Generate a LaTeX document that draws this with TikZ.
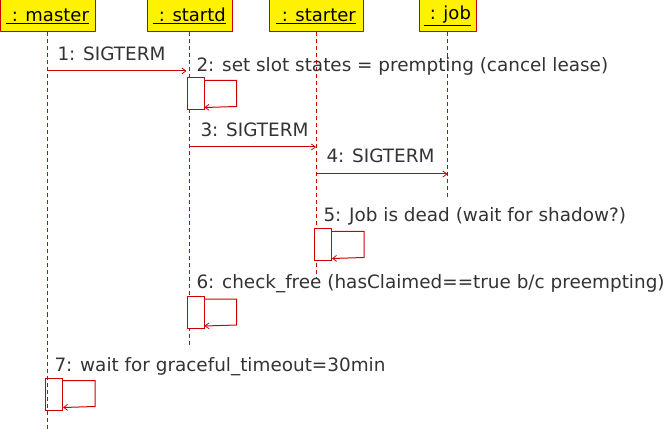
\documentclass[tikz,border=0pt]{standalone}
\usepackage{fontspec}
\setmainfont{DejaVu Sans}
\usepackage{tikz}
\usetikzlibrary{positioning}
\usetikzlibrary{arrows.meta}

\definecolor{umlred}{RGB}{204,0,0}
\definecolor{umltext}{RGB}{51,51,51}

\begin{document}
\begin{tikzpicture}	[
	x=1pt, y=-1pt, line width=1pt,
	head/.style={draw=umlred, fill=yellow, inner sep=0, minimum height=32pt,
		font=\fontsize{18}{20}\selectfont},
	life/.style={umlred, dash pattern=on 4pt off 3pt},
	act/.style={draw=umlred, fill=white, inner sep=0, minimum width=17pt, minimum height=32pt},
	msg/.style={umlred, -{Straight Barb[length=4pt,width=6pt,line width=0.8pt]}},
	lbl/.style={anchor=base west, inner sep=0, text=umltext,
		font=\fontsize{18.4}{20}\selectfont}
]
	\useasboundingbox (0,0) rectangle (669,430);

	% lifeline heads
	\path
		(47.5,16) node[head,minimum width=95pt](master){\underline{\ : master}}
		(189.5,16) node[head,minimum width=85pt](startd){\underline{\ : startd}}
		(316,16) node[head,minimum width=94pt](starter){\underline{\ : starter}}
		(447.5,16) node[head,minimum width=57pt](job){\underline{\ : job}}
	;
	\path
		(47.5,430) coordinate(master end)
		(189.5,345) coordinate(startd end)
		(316,279) coordinate(starter end)
		(447.5,197) coordinate(job end)
	;
	\draw[life]
		(master) -- (master end)
		(startd) -- (startd end)
		(starter) -- (starter end)
		(job) -- (job end)
	;

	% activations
	\path
		(195.5,94) node[act](act2){}
		(323,245) node[act](act5){}
		(195.5,312.5) node[act](act6){}
		(54,394) node[act,fill=none](act7){}
	;
	\foreach \a/\w in {act2/32,act5/32,act6/32,act7/32}
		\draw[msg] ([yshift=-3pt]\a.north east) -- ++(\w,0) -- ++(0,26)
			-- ([yshift=3pt]\a.south east);

	% messages
	\path
		(47.5,71) coordinate(m1)
		(189.5,147) coordinate(m3)
		(316,174) coordinate(m4)
	;
	\draw[msg] (m1) -- (m1 -| act2.west);
	\draw[msg] (m3) -- (m3 -| starter);
	\draw[msg] (m4) -- (m4 -| job);

	% labels
	\path
		(57,61) node[lbl](l1){1: SIGTERM}
		(196,72) node[lbl](l2){2: set slot states = prempting (cancel lease)}
		(200,137) node[lbl](l3){3: SIGTERM}
		(326,163) node[lbl](l4){4: SIGTERM}
		(323,222) node[lbl](l5){5: Job is dead (wait for shadow?)}
		(196,289) node[lbl](l6){6: check\_free (hasClaimed==true b/c preempting)}
		(54,371) node[lbl](l7){7: wait for graceful\_timeout=30min}
	;
\end{tikzpicture}
\end{document}
